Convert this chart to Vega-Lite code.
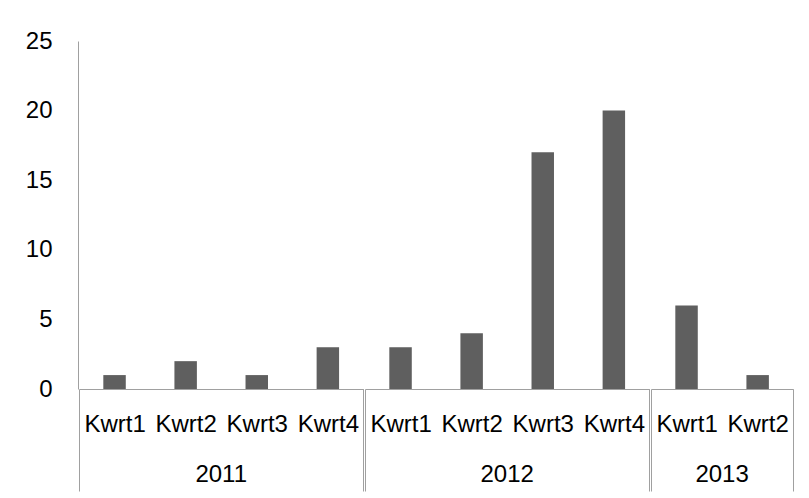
{
  "$schema": "https://vega.github.io/schema/vega-lite/v6.json",
  "padding": {"left": 25, "top": 29, "right": 5, "bottom": 0},
  "background": "white",
  "data": {"values": [
    {"year": "2011", "quarter": "Kwrt1", "value": 1},
    {"year": "2011", "quarter": "Kwrt2", "value": 2},
    {"year": "2011", "quarter": "Kwrt3", "value": 1},
    {"year": "2011", "quarter": "Kwrt4", "value": 3},
    {"year": "2012", "quarter": "Kwrt1", "value": 3},
    {"year": "2012", "quarter": "Kwrt2", "value": 4},
    {"year": "2012", "quarter": "Kwrt3", "value": 17},
    {"year": "2012", "quarter": "Kwrt4", "value": 20},
    {"year": "2013", "quarter": "Kwrt1", "value": 6},
    {"year": "2013", "quarter": "Kwrt2", "value": 1}
  ]},
  "facet": {
    "column": {
      "field": "year", "type": "ordinal",
      "header": {"title": null, "labelOrient": "bottom", "labelFont": "Liberation Sans", "labelFontSize": 24, "labelColor": "#000000", "labelPadding": -29}
    }
  },
  "spacing": 0,
  "resolve": {"scale": {"x": "independent"}},
  "spec": {
    "width": {"step": 71.1},
    "height": 348,
    "mark": {"type": "bar", "color": "#5f5f5f", "width": {"band": 0.316}},
    "encoding": {
      "x": {
        "field": "quarter", "type": "nominal", "sort": null,
        "scale": {"paddingInner": 0, "paddingOuter": 0},
        "axis": {
          "title": null, "labelAngle": 0, "labelFont": "Liberation Sans", "labelFontSize": 24, "labelColor": "#000000",
          "labelPadding": -79, "labelOverlap": false,
          "tickBand": "extent", "tickSize": 102, "tickColor": "#a0a0a0",
          "tickOpacity": {"condition": {"test": "datum.index == 1 || datum.index < 0", "value": 1}, "value": 0},
          "domainColor": "#a0a0a0"
        }
      },
      "y": {
        "field": "value", "type": "quantitative",
        "scale": {"domain": [0, 25]},
        "axis": {
          "title": null, "values": [0, 5, 10, 15, 20, 25], "ticks": false, "grid": false,
          "labelPadding": 26, "labelFont": "Liberation Sans", "labelFontSize": 24, "labelColor": "#000000",
          "domainColor": "#a0a0a0"
        }
      }
    }
  },
  "config": {"view": {"stroke": null}}
}
